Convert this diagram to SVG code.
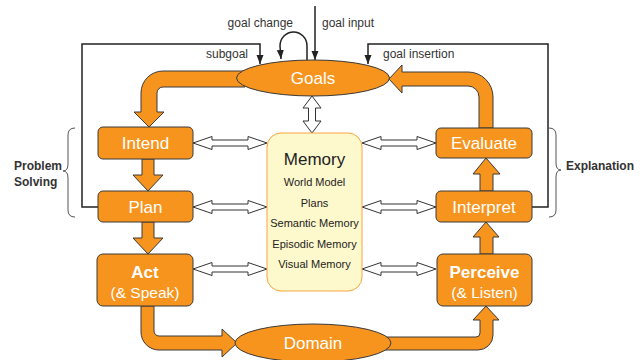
<svg xmlns="http://www.w3.org/2000/svg" xmlns:xlink="http://www.w3.org/1999/xlink" width="644" height="360" viewBox="0 0 644 360">
<style>
.big{fill:#F7941D;stroke:#3a3a3a;stroke-width:1}
.box{fill:#F7941D;stroke:#3a3a3a;stroke-width:1}
.dbl{fill:#fff;stroke:#333;stroke-width:1}
.thin{fill:none;stroke:#222;stroke-width:1.5}
.brace{fill:none;stroke:#555;stroke-width:1}
.lbl{font-family:"Liberation Sans",Arial,sans-serif;font-size:12px;fill:#333}
.blbl{font-family:"Liberation Sans",Arial,sans-serif;font-size:12px;font-weight:bold;fill:#333}
.nt{font-family:"Liberation Sans",Arial,sans-serif;font-size:17px;fill:#fff;text-anchor:middle}
.nb{font-family:"Liberation Sans",Arial,sans-serif;font-size:17px;font-weight:bold;fill:#fff;text-anchor:middle}
.ns{font-family:"Liberation Sans",Arial,sans-serif;font-size:15.5px;fill:#fff;text-anchor:middle}
.mt{font-family:"Liberation Sans",Arial,sans-serif;font-size:11px;fill:#222;text-anchor:middle}
</style>
<defs>
<marker id="ah" markerUnits="userSpaceOnUse" markerWidth="10" markerHeight="10" viewBox="0 0 10 10" refX="9" refY="5" orient="auto">
<path d="M0,1.5 L9,5 L0,8.5 Z" fill="#222"/>
</marker>
<path id="dblh" d="M0 0 L19 -6.5 L19 -3 L55 -3 L55 -6.5 L74 0 L55 6.5 L55 3 L19 3 L19 6.5 Z"/>
</defs>

<g id="connectors">
<!-- thick flow arrows -->
<path class="big" d="M245 71 L163 71 A22 22 0 0 0 141 93 L141 112 L134 112 L149 127 L164 112 L157 112 L157 93 A6 6 0 0 1 163 87 L245 87 Z"/>
<path class="big" d="M142 159 L142 175 L133 175 L148 191 L163 175 L154 175 L154 159 Z"/>
<path class="big" d="M142 222 L142 238 L133 238 L148 254 L163 238 L154 238 L154 222 Z"/>
<path class="big" d="M141 306 L141 332 A18 18 0 0 0 159 350 L222 350 L222 357 L237 343 L222 329 L222 336 L159 336 A5 5 0 0 1 154 331 L154 306 Z"/>
<path class="big" d="M380 337 L476 337 A4 4 0 0 0 480 333 L480 320 L473 320 L486 306 L499 320 L493 320 L493 335 A15 15 0 0 1 478 350 L380 350 Z"/>
<path class="big" d="M480 254 L480 237 L473 237 L486 222 L499 237 L493 237 L493 254 Z"/>
<path class="big" d="M480 191 L480 174 L473 174 L486 158 L500 174 L493 174 L493 191 Z"/>
<path class="big" d="M479 128 L479 97 A11 11 0 0 0 468 86 L402 86 L402 93 L389 79 L402 65 L402 72 L468 72 A25 25 0 0 1 493 97 L493 128 Z"/>

<!-- hollow double arrows -->
<use xlink:href="#dblh" class="dbl" transform="translate(193,143)"/>
<use xlink:href="#dblh" class="dbl" transform="translate(193,207)"/>
<use xlink:href="#dblh" class="dbl" transform="translate(193,269)"/>
<use xlink:href="#dblh" class="dbl" transform="translate(362,143)"/>
<use xlink:href="#dblh" class="dbl" transform="translate(362,207)"/>
<use xlink:href="#dblh" class="dbl" transform="translate(362,269)"/>
<path class="dbl" d="M312 96 L321 108 L315.5 108 L315.5 121 L321 121 L312 133 L303 121 L308.5 121 L308.5 108 L303 108 Z"/>

<!-- feedback lines -->
<polyline class="thin" points="98,207 82,207 82,44 260,44 260,64" marker-end="url(#ah)"/>
<polyline class="thin" points="532,207 548,207 548,44 368,44 368,64" marker-end="url(#ah)"/>
<line class="thin" x1="315" y1="6" x2="315" y2="60" marker-end="url(#ah)"/>
<path class="thin" d="M307 61 L307 46 A13.5 14 0 0 0 280 46 L281 59" marker-end="url(#ah)"/>
</g>

<g id="labels">
<text class="lbl" x="293" y="27" text-anchor="end">goal change</text>
<text class="lbl" x="322" y="27">goal input</text>
<text class="lbl" x="248" y="58" text-anchor="end">subgoal</text>
<text class="lbl" x="383" y="58">goal insertion</text>
</g>

<g id="brace-problem">
<path class="brace" d="M75 128 Q68 128 68 135 L68 164 Q68 171 63 171 Q68 171 68 178 L68 210 Q68 217 75 217"/>
<text class="blbl" x="14" y="170">Problem</text>
<text class="blbl" x="14" y="186">Solving</text>
</g>

<g id="brace-explanation">
<path class="brace" d="M549 128 Q556 128 556 135 L556 163 Q556 170 561 170 Q556 170 556 177 L556 210 Q556 217 549 217"/>
<text class="blbl" x="566" y="170">Explanation</text>
</g>

<g id="goals">
<ellipse class="box" cx="313" cy="78" rx="76.5" ry="18"/>
<text class="nt" x="313" y="84">Goals</text>
</g>

<g id="intend">
<rect class="box" x="98" y="127" width="95" height="32" rx="5"/>
<text class="nt" x="145.5" y="149">Intend</text>
</g>

<g id="plan">
<rect class="box" x="98" y="191" width="95" height="31" rx="5"/>
<text class="nt" x="145.5" y="213">Plan</text>
</g>

<g id="act">
<rect class="box" x="97" y="254" width="96" height="52" rx="6"/>
<text class="nb" x="145" y="278">Act</text>
<text class="ns" x="145" y="298">(&amp; Speak)</text>
</g>

<g id="evaluate">
<rect class="box" x="436" y="128" width="96" height="30" rx="5"/>
<text class="nt" x="484" y="149">Evaluate</text>
</g>

<g id="interpret">
<rect class="box" x="436" y="191" width="96" height="31" rx="5"/>
<text class="nt" x="484" y="213">Interpret</text>
</g>

<g id="perceive">
<rect class="box" x="437" y="254" width="95" height="52" rx="6"/>
<text class="nb" x="484.5" y="278">Perceive</text>
<text class="ns" x="484.5" y="298">(&amp; Listen)</text>
</g>

<g id="memory">
<rect x="267" y="133" width="95" height="158" rx="14" fill="#FEF9CC" stroke="#F7A540" stroke-width="1"/>
<text x="314.5" y="165" font-family="'Liberation Sans',Arial,sans-serif" font-size="17" fill="#222" text-anchor="middle">Memory</text>
<text class="mt" x="314.5" y="186">World Model</text>
<text class="mt" x="314.5" y="207">Plans</text>
<text class="mt" x="314.5" y="227">Semantic Memory</text>
<text class="mt" x="314.5" y="248">Episodic Memory</text>
<text class="mt" x="314.5" y="268">Visual Memory</text>
</g>

<g id="domain">
<ellipse class="box" cx="313" cy="343" rx="78" ry="19"/>
<text class="nt" x="313" y="349">Domain</text>
</g>
</svg>
